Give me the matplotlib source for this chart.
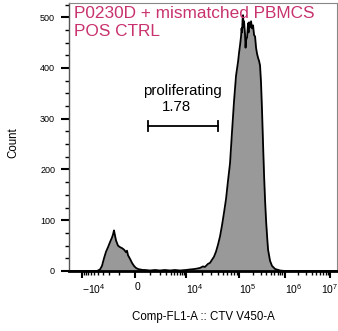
import numpy as np
import matplotlib
matplotlib.use('Agg')
import matplotlib.pyplot as plt

plt.rcParams['font.family'] = ['Liberation Sans', 'DejaVu Sans']
plt.rcParams['mathtext.fontset'] = 'custom'
plt.rcParams['mathtext.rm'] = 'Liberation Sans'
plt.rcParams['mathtext.it'] = 'Liberation Sans:italic'
plt.rcParams['mathtext.bf'] = 'Liberation Sans:bold'

# histogram: CTV intensity vs count
ctv = [-17600, -6340, -4230, -3550, -3160, -2800, -2480, -2190, -1930, -1700, -1590,
       -1490, -1390, -1290, -1120, -955, -800, -660, -531, -468, -406, -287, -171,
       -57, 59, 177, 298, 488, 624, 1000, 1470, 2040, 2830, 3850, 5200, 7010,
       10000, 11900, 14800, 18400, 20900, 22800, 26000, 28400, 30900, 33700,
       36800, 40200, 43800, 47800, 52100, 56900, 62000, 67600, 73800, 80500,
       87800, 95700, 100000, 105200, 110600, 113500, 116400, 119400, 122400,
       125500, 128800, 135500, 139000, 142500, 150000, 157700, 161800, 165900,
       174500, 183500, 193100, 203100, 213600, 225000, 236300, 248600, 261500,
       275000, 289400, 304400, 320200, 337000, 354300, 372700, 392100, 412000,
       434000, 480000, 531000, 619000, 796000, 1020000, 14200000]
count = [0, 0, 0, 3, 10, 25, 38, 47, 57, 66, 72,
         80, 70, 60, 50, 47, 45, 42, 37, 40, 31, 24, 16,
         10, 6, 4, 3, 2, 2, 1, 2, 1, 2, 1, 2, 1,
         2, 3, 4, 6, 9, 8, 14, 16, 22, 28,
         38, 52, 68, 90, 115, 142, 178, 212, 275, 335,
         385, 412, 430, 445, 462, 478, 470, 495, 504,
         480, 492, 465, 440, 455, 460, 488, 470, 490,
         480, 492, 478, 484, 465, 462, 440, 428, 420,
         414, 405, 370, 315, 250, 190, 140, 100, 70,
         42, 20, 10, 4, 1, 0, 0]

tick_vals = [-1e4, 0, 1e4, 1e5, 1e6, 1e7]
tick_labels = ['$\\mathregular{-10^{4}}$', '0', '$\\mathregular{10^{4}}$',
               '$\\mathregular{10^{5}}$', '$\\mathregular{10^{6}}$', '$\\mathregular{10^{7}}$']
gate = [840, 40200]
gate_level = 285
gate_name = 'proliferating'
gate_pct = '1.78'

# biexponential-like display scale (FlowJo style), in decades from zero
W = 1000.0
anchor_vals = np.array([-1e5, -1e4, 0, 1e4, 1e5, 1e6, 1e7, 1e8])
anchor_u = np.array([-2.33, -1.165, 0, 1.12, 2.286, 3.286, 4.286, 5.286])
anchor_t = np.arcsinh(anchor_vals / W)


def biex_fwd(x):
    return np.interp(np.arcsinh(np.asarray(x, dtype=float) / W), anchor_t, anchor_u)


def biex_inv(u):
    return W * np.sinh(np.interp(np.asarray(u, dtype=float), anchor_u, anchor_t))


fig = plt.figure(figsize=(3.38, 3.31), dpi=100)
ax = fig.add_axes([69 / 338, 60 / 331, 268 / 338, 268 / 331])
ax.set_xscale('function', functions=(biex_fwd, biex_inv))

ax.fill_between(ctv, count, color='#999999', lw=0)
ax.plot(ctv, count, color='black', lw=1.3)

ax.set_xlim(-17600, 14200000)
ax.set_ylim(0, 528)

ax.set_xticks(tick_vals)
ax.set_xticklabels(tick_labels, fontsize=7.5)
xlabels = ax.get_xticklabels()
for lbl in xlabels[:-1]:
    lbl.set_ha('left')
xlabels[-1].set_ha('center')
minor = ([-k * 1e3 for k in range(1, 10)] + [k * 1e3 for k in range(1, 10)] +
         [k * 10 ** d for d in (4, 5, 6) for k in range(2, 10)])
ax.set_xticks(minor, minor=True)
ax.set_yticks([0, 100, 200, 300, 400, 500])
ax.set_yticks(np.arange(0, 528, 25), minor=True)
ax.tick_params(axis='y', which='major', length=6, width=1.5, labelsize=6.5, pad=4)
ax.tick_params(axis='y', which='minor', length=3, width=1)
ax.tick_params(axis='x', which='major', length=5, width=1.5, pad=3)
ax.tick_params(axis='x', which='minor', length=3, width=1)

for s in ('top', 'right'):
    ax.spines[s].set_color('#888888')
    ax.spines[s].set_linewidth(0.8)
ax.spines['left'].set_color('#555555')
ax.spines['left'].set_linewidth(1)
ax.spines['bottom'].set_linewidth(2)

ax.set_xlabel('Comp-FL1-A :: CTV V450-A', fontsize=8.3)
ax.xaxis.set_label_coords(0.5, -0.15)
ax.set_ylabel('Count', fontsize=8.3)
ax.yaxis.set_label_coords(-0.185, 0.48)

ax.text(0.019, 0.99, 'P0230D + mismatched PBMCS\nPOS CTRL', transform=ax.transAxes,
        ha='left', va='top', fontsize=12.4, color='#c8326e', linespacing=1.25)

# gate bracket
ax.plot(gate, [gate_level, gate_level], color='black', lw=1.3)
ax.plot([gate[0], gate[0]], [gate_level - 10, gate_level + 10], color='black', lw=1.3)
ax.plot([gate[1], gate[1]], [gate_level - 10, gate_level + 10], color='black', lw=1.3)
ax.text(7870, 354, gate_name, ha='center', va='center', fontsize=10.8)
ax.text(5520, 324, gate_pct, ha='center', va='center', fontsize=10.8)

fig.savefig('out.png', dpi=100)
